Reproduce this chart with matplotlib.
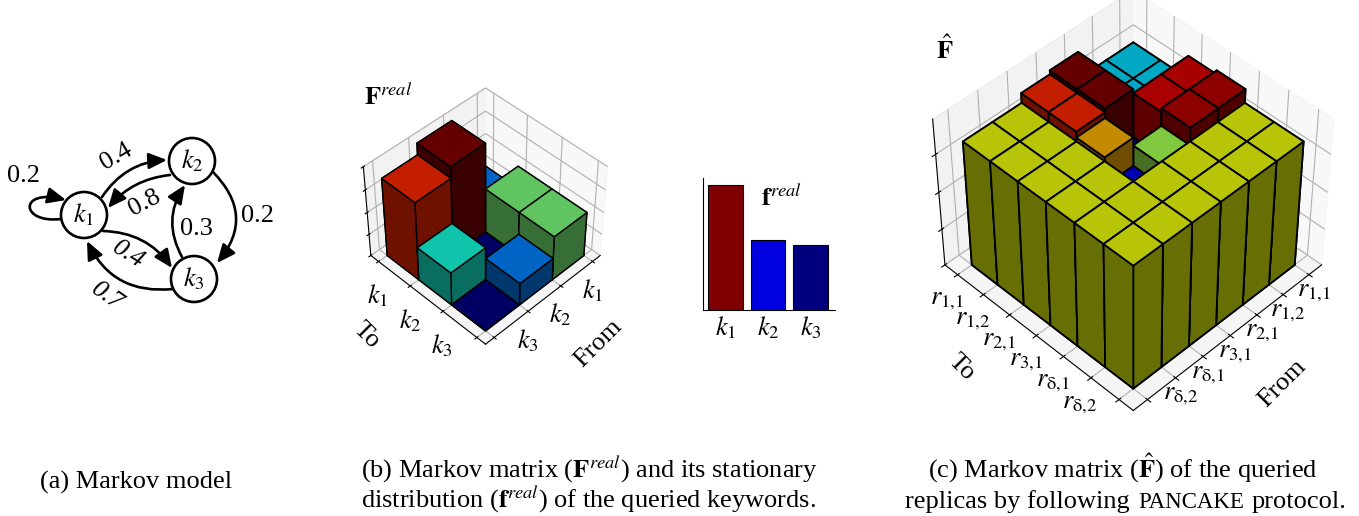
import numpy as np
import matplotlib
matplotlib.use('Agg')
import matplotlib.pyplot as plt
from matplotlib.colors import to_rgb
from matplotlib.patches import Circle, FancyArrowPatch
from matplotlib.path import Path

plt.rcParams['font.family'] = ['Liberation Serif', 'DejaVu Serif']
plt.rcParams['mathtext.fontset'] = 'stix'

W, H = 1359, 516
FS = 19

# markov model
node_names = ['$k_1$', '$k_2$', '$k_3$']
node_pos = [(84, 215), (192, 161), (194, 279)]
# start, end, rad
edges = [((102, 197), (167, 160), -0.25),
         ((170, 175), (108, 208), 0.2),
         ((103, 231), (172, 268), -0.25),
         ((173, 289), (87, 241), -0.35),
         ((213, 172), (217, 263), -0.45),
         ((182, 257), (185, 185), -0.3)]
edge_labels = ['0.2', '0.4', '0.8', '0.4', '0.7', '0.2', '0.3']
edge_label_pos = [(23, 176), (116, 157), (145, 203), (128, 255), (107, 297), (258, 216), (196, 229)]
edge_label_rot = [0, 30, 28, -32, -35, 0, 0]
edge_label_style = ['normal', 'normal', 'normal', 'italic', 'italic', 'normal', 'normal']

# F real, rows = From, cols = To
keywords = ['$k_1$', '$k_2$', '$k_3$']
F_real = np.array([[0.2, 0.4, 0.4],
                   [0.8, 0.0, 0.2],
                   [0.7, 0.3, 0.0]])
F_real_colors = [['#0064c4', '#60c460', '#60c460'],
                 ['#640000', '#000064', '#0064c4'],
                 ['#c41e00', '#10c4ac', '#000064']]

# stationary distribution
f_real = [0.48, 0.27, 0.25]
f_real_colors = ['#7f0000', '#0000e0', '#00007f']

# F hat
replicas = [r'$r_{1{,}1}$', r'$r_{1{,}2}$', r'$r_{2{,}1}$', r'$r_{3{,}1}$',
            r'$r_{\mathrm{\delta}{,}1}$', r'$r_{\mathrm{\delta}{,}2}$']
Y = '#b8c408'
F_hat = np.array([[0.300, 0.300, 0.358, 0.368, 0.333, 0.333],
                  [0.300, 0.300, 0.358, 0.368, 0.333, 0.333],
                  [0.368, 0.368, 0.245, 0.323, 0.333, 0.333],
                  [0.358, 0.358, 0.343, 0.270, 0.333, 0.333],
                  [0.333, 0.333, 0.333, 0.333, 0.333, 0.333],
                  [0.333, 0.333, 0.333, 0.333, 0.333, 0.333]])
F_hat_colors = [['#00a8c4', '#00a8c4', '#a80000', '#8c0000', Y, Y],
                ['#00a8c4', '#00a8c4', '#a80000', '#8c0000', Y, Y],
                ['#640000', '#640000', '#00007c', '#80c840', Y, Y],
                ['#c41e00', '#c41e00', '#c48a00', '#0000b4', Y, Y],
                [Y, Y, Y, Y, Y, Y],
                [Y, Y, Y, Y, Y, Y]]

captions = [(136, 489, '(a) Markov model'),
            (589, 478, r'(b) Markov matrix ($\mathbf{F}^{real}$) and its stationary'),
            (589, 508, r'distribution ($\mathbf{f}^{real}$) of the queried keywords.'),
            (1123, 478, r'(c) Markov matrix ($\hat{\mathbf{F}}$) of the queried')]


def px(x, y):
    return x / W, 1 - y / H


def bars3d(ax, heights, colors, lw):
    n = heights.shape[0]
    ax.computed_zorder = False
    for i in range(n):
        for j in range(n):
            top = np.array(to_rgb(colors[i][j]))
            side = top * 0.56
            # faces: bottom, top, -y, +y, -x, +x
            c = ax.bar3d(i, j, 0, 1, 1, heights[i, j], shade=False,
                         color=[side, top, side, side, side, side],
                         edgecolor='k', linewidth=lw)
            c.set_zorder(5 + i + j)


def style3d(ax, xlabels, ylabels, zticks, zlim, ha_x, ha_y, pad_x, pad_y):
    n = len(xlabels)
    ax.set_xlim(-n / 12, n + n / 12)
    ax.set_ylim(-n / 12, n + n / 12)
    ax.set_zlim(*zlim)
    ax.view_init(elev=45, azim=45)
    ax.set_xticks(range(n + 1), xlabels + [''], fontsize=FS, ha=ha_x)
    ax.set_yticks(range(n + 1), ylabels + [''], fontsize=FS, ha=ha_y)
    ax.set_zticks(zticks, [''] * len(zticks))
    ax.tick_params(axis='x', pad=pad_x)
    ax.tick_params(axis='y', pad=pad_y)
    ax.patch.set_alpha(0)


fig = plt.figure(figsize=(W / 100, H / 100), dpi=100)

# (a)
ov = fig.add_axes([0, 0, 1, 1])
ov.set_xlim(0, W)
ov.set_ylim(H, 0)
ov.axis('off')
head = '-|>,head_length=0.5,head_width=0.22'
for (a, b, rad) in edges:
    ov.add_patch(FancyArrowPatch(a, b, connectionstyle='arc3,rad=%f' % rad, arrowstyle=head,
                                 mutation_scale=22, lw=1.9, color='k', shrinkA=0, shrinkB=0))
loop = Path([(61, 219), (20, 224), (18, 188), (66, 200)],
            [Path.MOVETO, Path.CURVE4, Path.CURVE4, Path.CURVE4])
ov.add_patch(FancyArrowPatch(path=loop, arrowstyle=head, mutation_scale=22, lw=1.9, color='k',
                             shrinkA=0, shrinkB=0))
for name, (x, y) in zip(node_names, node_pos):
    ov.add_patch(Circle((x, y), 23, fc='w', ec='k', lw=1.9, zorder=3))
    ov.text(x, y, name, ha='center', va='center', fontsize=FS, zorder=4)
for t, (x, y), r, s in zip(edge_labels, edge_label_pos, edge_label_rot, edge_label_style):
    ov.text(x, y, t, ha='center', va='center', rotation=r, style=s, fontsize=FS)

# (b)
ax_b = fig.add_axes([352 / W, 1 - 346 / H, 260 / W, 260 / H], projection='3d')
bars3d(ax_b, F_real, F_real_colors, 1.0)
style3d(ax_b, keywords, [r'$\,k_1$', r'$\,k_2$', r'$\,k_3$'], [0, 0.2, 0.4, 0.6, 0.8], (0, 0.8),
        'right', 'left', 1, 4)

# stationary
ax_f = fig.add_axes([703 / W, 1 - 310 / H, 132 / W, 132 / H])
ax_f.bar(range(3), f_real, width=0.82, color=f_real_colors, edgecolor='k', linewidth=0.8)
ax_f.set_xlim(-0.53, 2.58)
ax_f.set_ylim(0, 0.507)
ax_f.set_xticks(range(3), keywords, fontsize=FS)
ax_f.set_yticks([])
ax_f.tick_params(axis='x', length=0, pad=3)
ax_f.spines['top'].set_visible(False)
ax_f.spines['right'].set_visible(False)

# (c)
ax_c = fig.add_axes([914 / W, 1 - 413.5 / H, 427 / W, 427 / H], projection='3d')
bars3d(ax_c, F_hat, F_hat_colors, 1.3)
style3d(ax_c, replicas, replicas, [0, 0.1, 0.2, 0.3], (0, 0.39), 'center', 'center', -4, 1)

# texts
fig.text(*px(388, 97), r'$\mathbf{F}^{real}$', ha='center', va='center', fontsize=FS)
fig.text(*px(781, 198), r'$\mathbf{f}^{real}$', ha='center', va='center', fontsize=FS)
fig.text(*px(945, 50), r'$\hat{\mathbf{F}}$', ha='center', va='center', fontsize=FS)
fig.text(*px(367, 335), 'To', ha='center', va='center', rotation=-45, fontsize=FS)
fig.text(*px(598, 343), 'From', ha='center', va='center', rotation=45, fontsize=FS)
fig.text(*px(962, 367), 'To', ha='center', va='center', rotation=-45, fontsize=FS)
fig.text(*px(1282, 383), 'From', ha='center', va='center', rotation=45, fontsize=FS)
for x, y, t in captions:
    fig.text(*px(x, y), t, ha='center', va='baseline', fontsize=FS)
# small caps word is set on its own
fig.text(*px(905, 508), 'replicas by following', ha='left', va='baseline', fontsize=FS)
fig.text(*px(1138, 508), 'PANCAKE', ha='left', va='baseline', fontsize=16.5)
fig.text(*px(1252, 508), 'protocol.', ha='left', va='baseline', fontsize=FS)

fig.savefig('out.png', dpi=100)
